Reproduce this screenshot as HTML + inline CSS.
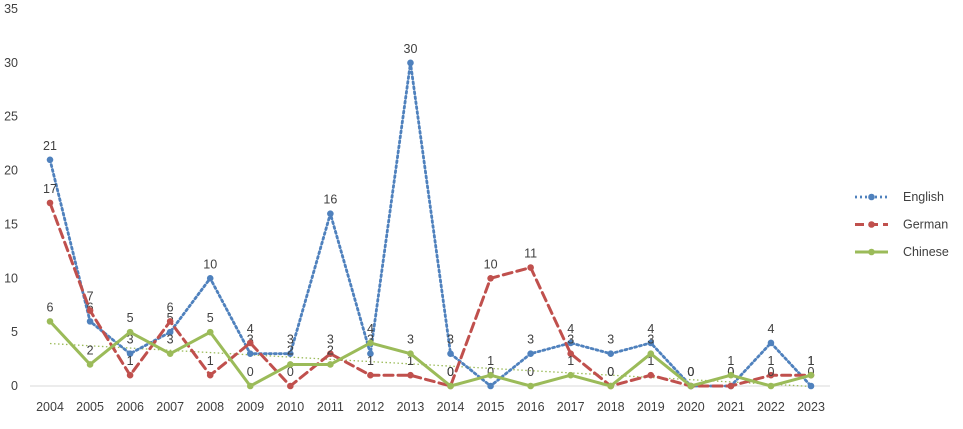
<!DOCTYPE html>
<html><head><meta charset="utf-8"><style>
body{margin:0;background:#fff;font-family:"Liberation Sans",sans-serif}
svg text{font-family:"Liberation Sans",sans-serif;fill:#404040;font-size:12.5px}
</style></head><body>
<svg id="c" width="963" height="424"></svg>
<script>
const years=[2004,2005,2006,2007,2008,2009,2010,2011,2012,2013,2014,2015,2016,2017,2018,2019,2020,2021,2022,2023];
const english=[21,6,3,5,10,3,3,16,3,30,3,0,3,4,3,4,0,0,4,0];
const german=[17,7,1,6,1,4,0,3,1,1,0,10,11,3,0,1,0,0,1,1];
const chinese=[6,2,5,3,5,0,2,2,4,3,0,1,0,1,0,3,0,1,0,1];
const yTicks=[0,5,10,15,20,25,30,35];
const NS='http://www.w3.org/2000/svg';
const svg=document.getElementById('c');
const x0=50,x1=811,y0=386,yTop=9;
const xs=i=>x0+i*(x1-x0)/(years.length-1);
const ys=v=>y0-v*(y0-yTop)/35;
function el(t,a,p){const e=document.createElementNS(NS,t);for(const k in a)e.setAttribute(k,a[k]);(p||svg).appendChild(e);return e;}
yTicks.forEach(t=>{
 const tx=el('text',{x:18,y:ys(t)+4,'text-anchor':'end'});tx.textContent=t;
 
 
});
const ax=el('line',{x1:30,x2:830,y1:y0,y2:y0,stroke:'#d9d9d9'});


years.forEach((yr,i)=>{
 const tx=el('text',{x:xs(i),y:411,'text-anchor':'middle'});tx.textContent=yr;
 
 
});
// trendline for chinese
const n=chinese.length;let sx=0,sy=0,sxx=0,sxy=0;
chinese.forEach((v,i)=>{sx+=i;sy+=v;sxx+=i*i;sxy+=i*v;});
const b=(n*sxy-sx*sy)/(n*sxx-sx*sx),a=(sy-b*sx)/n;
const tr=el('line',{x1:xs(0),y1:ys(a),x2:xs(n-1),y2:ys(a+b*(n-1)),stroke:'#9bbb59','stroke-width':1.3,'stroke-dasharray':'1.5 2.5'});


const series=[
 {name:'english',label:'English',data:english,color:'#4f81bd',dash:'2 3',w:2.8},
 {name:'german',label:'German',data:german,color:'#c0504d',dash:'9 5',w:3},
 {name:'chinese',label:'Chinese',data:chinese,color:'#9bbb59',dash:'',w:3}];
series.forEach((s,si)=>{
 const g=el('g',{});
 
 
 const pl=el('polyline',{points:s.data.map((v,i)=>xs(i)+','+ys(v)).join(' '),fill:'none',stroke:s.color,'stroke-width':s.w,'stroke-dasharray':s.dash,'stroke-linecap':s.dash?'round':'butt','stroke-linejoin':'round'},g);
 
 
 s.data.forEach((v,i)=>{
  const c=el('circle',{cx:xs(i),cy:ys(v),r:3.3,fill:s.color},g);
  
  
  const t=el('text',{x:xs(i),y:ys(v)-10,'text-anchor':'middle'},g);t.textContent=v;
  
  
 });
 const ly=197+si*27.5;
 const lg=el('g',{});
 
 
 el('line',{x1:855,x2:888,y1:ly,y2:ly,stroke:s.color,'stroke-width':s.w,'stroke-dasharray':s.dash},lg);
 el('circle',{cx:871.5,cy:ly,r:3.3,fill:s.color},lg);
 const lt=el('text',{x:903,y:ly+4},lg);lt.textContent=s.label;
});
</script>
</body></html>
